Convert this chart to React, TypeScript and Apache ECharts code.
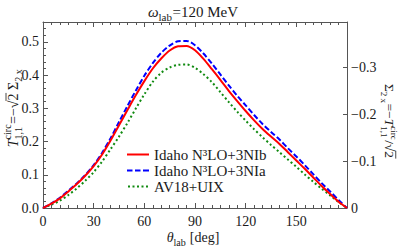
import React, { useEffect, useRef } from "react";
import * as echarts from "echarts";

const thetaDeg = [0, 5, 10, 15, 20, 25, 30, 35, 40, 45, 50, 55, 60, 65, 70, 75, 80, 85, 90, 95, 100, 105, 110, 115, 120, 125, 130, 135, 140, 145, 150, 155, 160, 165, 170, 175, 180];
const idahoNIb = [0, 0.013, 0.029, 0.05, 0.072, 0.097, 0.126, 0.161, 0.203, 0.249, 0.295, 0.34, 0.382, 0.42, 0.45, 0.474, 0.487, 0.488, 0.475, 0.449, 0.418, 0.386, 0.353, 0.322, 0.292, 0.264, 0.238, 0.215, 0.193, 0.168, 0.143, 0.118, 0.092, 0.066, 0.042, 0.019, 0];
const idahoNIa = [0, 0.014, 0.031, 0.052, 0.074, 0.099, 0.129, 0.166, 0.21, 0.259, 0.307, 0.354, 0.398, 0.436, 0.467, 0.489, 0.502, 0.503, 0.49, 0.465, 0.435, 0.402, 0.369, 0.338, 0.309, 0.28, 0.253, 0.229, 0.206, 0.18, 0.155, 0.129, 0.102, 0.075, 0.05, 0.024, 0];
const av18Uix = [0, 0.01, 0.022, 0.039, 0.059, 0.082, 0.108, 0.14, 0.177, 0.215, 0.256, 0.3, 0.342, 0.38, 0.407, 0.423, 0.431, 0.432, 0.422, 0.403, 0.379, 0.349, 0.319, 0.29, 0.263, 0.237, 0.213, 0.19, 0.168, 0.146, 0.124, 0.101, 0.079, 0.058, 0.038, 0.018, 0];
const seriesNames = ["Idaho N³LO+3NIb", "Idaho N³LO+3NIa", "AV18+UIX"];
const xTickLabels = ["0", "30", "60", "90", "120", "150", ""];
const leftTickLabels = ["0.0", "0.1", "0.2", "0.3", "0.4", "0.5"];
const rightTickLabels = ["0", "−0.1", "−0.2", "−0.3"];

const FONT = "'Liberation Serif', 'DejaVu Serif', 'Times New Roman', serif";
const TXT = "#1a1a1a";
const AX = "#555555";
const RED = "#ff0000";
const BLUE = "#0000ff";
const GREEN = "#108a10";

const ICON_SOLID = "path://M0,0H22V2H0Z";
const ICON_DASH = "path://M0,0h5.5v2h-5.5z M8,0h5.5v2h-5.5z M16,0h6v2h-6z";
const ICON_DOT = "path://M0,0h2v2h-2z M4.5,0h2v2h-2z M9,0h2v2h-2z M13.5,0h2v2h-2z M18,0h2v2h-2z";

type Part = { t?: string; i?: boolean; over?: boolean; sup?: string; sub?: string; subI?: boolean };

let ctx: CanvasRenderingContext2D | null = null;
function measure(text: string, size: number, italic?: boolean) {
  if (!ctx) ctx = document.createElement("canvas").getContext("2d");
  if (!ctx) return text.length * size * 0.5;
  ctx.font = `${italic ? "italic " : ""}${size}px ${FONT}`;
  return ctx.measureText(text).width;
}

function textEl(text: string, x: number, y: number, size: number, italic?: boolean) {
  return {
    type: "text",
    x,
    y,
    style: {
      text,
      fill: TXT,
      font: `${italic ? "italic " : ""}${size}px ${FONT}`,
      textAlign: "left",
      textVerticalAlign: "middle",
    },
  };
}

function buildSeq(parts: Part[], S: number) {
  const s2 = Math.round(S * 0.7);
  let w = 0;
  const widths: number[] = [];
  parts.forEach((p) => {
    let pw = 0;
    if (p.sup !== undefined || p.sub !== undefined) {
      pw = Math.max(p.sup ? measure(p.sup, s2) : 0, p.sub ? measure(p.sub, s2, p.subI) : 0) + 0.5;
    } else {
      pw = measure(p.t || "", S, p.i);
    }
    widths.push(pw);
    w += pw;
  });
  const els: any[] = [];
  let x = -w / 2;
  const supDy = -S * 0.4;
  const subDy = S * 0.36;
  parts.forEach((p, k) => {
    if (p.sup !== undefined || p.sub !== undefined) {
      if (p.sup) els.push(textEl(p.sup, x, supDy, s2, false));
      if (p.sub) els.push(textEl(p.sub, x, subDy, s2, p.subI));
    } else {
      els.push(textEl(p.t || "", x, 0, S, p.i));
      if (p.over) {
        const yy = -S * 0.5;
        els.push({
          type: "line",
          shape: { x1: x - 0.5, y1: yy, x2: x + widths[k] + 0.5, y2: yy },
          style: { stroke: TXT, lineWidth: 0.8 },
        });
      }
    }
    x += widths[k];
  });
  return els;
}

function group(x: number, y: number, rotation: number, S: number, parts: Part[]) {
  return { type: "group", x, y, rotation, children: buildSeq(parts, S) };
}

export default function App() {
  const ref = useRef<HTMLDivElement>(null);
  useEffect(() => {
    if (!ref.current) return;
    const chart = echarts.init(ref.current, undefined, { renderer: "svg" });
    const mk = (vals: number[]) => thetaDeg.map((t, k) => [t, vals[k]]);
    const axisCommon = {
      type: "value" as const,
      axisLine: { show: true, onZero: false, lineStyle: { color: AX, width: 1 } },
      axisTick: { show: true, inside: true, length: 5, lineStyle: { color: AX, width: 1 } },
      minorTick: { show: true, length: 3, lineStyle: { color: AX, width: 1 } },
      splitLine: { show: false },
      minorSplitLine: { show: false },
    };
    const option: any = {
      animation: false,
      backgroundColor: "#ffffff",
      textStyle: { fontFamily: FONT },
      grid: { left: 43, right: 54, top: 22, bottom: 41, containLabel: false },
      xAxis: [
        {
          ...axisCommon,
          position: "bottom",
          min: 0,
          max: 180,
          interval: 30,
          minorTick: { ...axisCommon.minorTick, splitNumber: 6 },
          axisLabel: {
            margin: 6,
            color: TXT,
            fontFamily: FONT,
            fontSize: 14,
            showMaxLabel: false,
            formatter: (v: number) => xTickLabels[Math.round(v / 30)] ?? "",
          },
        },
        {
          ...axisCommon,
          position: "top",
          min: 0,
          max: 180,
          interval: 30,
          minorTick: { ...axisCommon.minorTick, splitNumber: 6 },
          axisLabel: { show: false },
        },
      ],
      yAxis: [
        {
          ...axisCommon,
          position: "left",
          min: 0,
          max: 0.56,
          interval: 0.1,
          minorTick: { ...axisCommon.minorTick, splitNumber: 5 },
          axisLabel: {
            margin: 4,
            color: TXT,
            fontFamily: FONT,
            fontSize: 14,
            showMaxLabel: false,
            formatter: (v: number) => leftTickLabels[Math.round(v * 10)] ?? "",
          },
        },
        {
          ...axisCommon,
          position: "right",
          min: 0,
          max: 0.56 / Math.SQRT2,
          interval: 0.1,
          minorTick: { show: false },
          axisTick: { show: true, inside: true, length: 4, lineStyle: { color: AX, width: 1 } },
          axisLabel: {
            margin: 4,
            color: TXT,
            fontFamily: FONT,
            fontSize: 14,
            showMaxLabel: false,
            formatter: (v: number) => rightTickLabels[Math.round(v * 10)] ?? "",
          },
        },
      ],
      legend: {
        orient: "vertical",
        left: 122,
        top: 142,
        padding: 5,
        itemWidth: 22,
        itemHeight: 2,
        itemGap: 1,
        textStyle: { fontFamily: FONT, fontSize: 15, color: TXT },
        data: [
          { name: seriesNames[0], icon: ICON_SOLID },
          { name: seriesNames[1], icon: ICON_DASH },
          { name: seriesNames[2], icon: ICON_DOT },
        ],
      },
      series: [
        {
          name: seriesNames[2],
          type: "line",
          data: mk(av18Uix),
          smooth: 0.3,
          showSymbol: false,
          symbol: "none",
          lineStyle: { color: GREEN, width: 2, type: [2, 2.6] },
          itemStyle: { color: GREEN },
        },
        {
          name: seriesNames[1],
          type: "line",
          data: mk(idahoNIa),
          smooth: 0.3,
          showSymbol: false,
          symbol: "none",
          lineStyle: { color: BLUE, width: 2, type: [5.5, 2.5] },
          itemStyle: { color: BLUE },
        },
        {
          name: seriesNames[0],
          type: "line",
          data: mk(idahoNIb),
          smooth: 0.3,
          showSymbol: false,
          symbol: "none",
          lineStyle: { color: RED, width: 2 },
          itemStyle: { color: RED },
        },
      ],
      graphic: {
        elements: [
          group(193, 11.5, 0, 15, [{ t: "ω", i: true }, { sub: "lab" }, { t: "=120 MeV" }]),
          group(193, 237, 0, 14, [{ t: "θ", i: true }, { sub: "lab" }, { t: " [deg]" }]),
          group(13, 108, Math.PI / 2, 14, [
            { t: "T", i: true },
            { sup: "circ", sub: "1,1" },
            { t: "=−" },
            { t: "√" },
            { t: "2", over: true },
            { t: " Σ" },
            { sub: "2 x", subI: false },
          ]),
          group(389, 121, -Math.PI / 2, 13.5, [
            { t: "Σ" },
            { sub: "2 x" },
            { t: "=−" },
            { t: "T", i: true },
            { sup: "circ", sub: "1,1" },
            { t: "/" },
            { t: "√" },
            { t: "2", over: true },
          ]),
        ],
      },
    };
    chart.setOption(option);
    return () => chart.dispose();
  }, []);
  return (
    <div
      ref={ref}
      style={{ position: "fixed", left: 0, top: 0, width: 401, height: 249, background: "#fff" }}
    />
  );
}
